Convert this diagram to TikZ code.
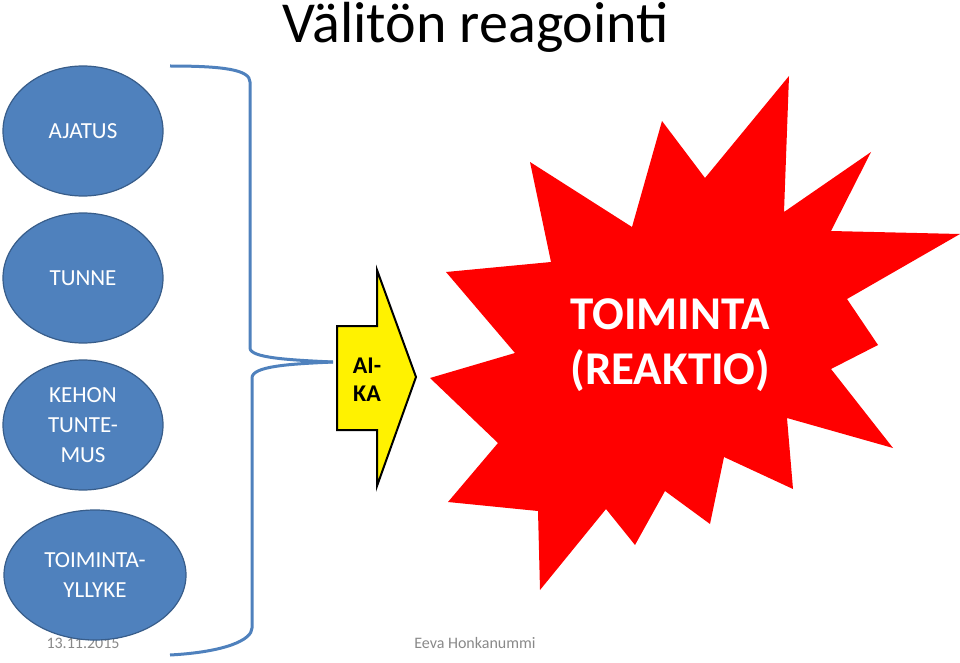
\documentclass[tikz,border=0pt]{standalone}
\usepackage{fontspec}
\setmainfont{Carlito}
\usepackage{tikz}
\usetikzlibrary{positioning, shapes.geometric}

\definecolor{slideblue}{RGB}{79,129,189}
\definecolor{slideblueline}{RGB}{56,93,138}
\definecolor{footgray}{RGB}{137,137,137}

\begin{document}
\begin{tikzpicture}[
  x=1pt, y=-1pt,
  blob/.style={ellipse, draw=slideblueline, line width=1.2pt, fill=slideblue,
    text=white, minimum width=160pt, minimum height=130pt, inner sep=0pt,
    align=center, font=\fontsize{23}{30}\selectfont},
  brace/.style={draw=slideblue, line width=3pt},
  footer/.style={text=footgray, font=\fontsize{16}{18}\selectfont},
]
\useasboundingbox (0,0) rectangle (960,663);

% --- Title ---
\node[anchor=base, inner sep=0pt, font=\fontsize{58}{60}\selectfont] (title)
  at (476,43) {Välitön reagointi};

% --- Footer ---
\node[footer] (date) at (83,643) {13.11.2015};
\node[footer] (author) at (475,643) {Eeva Honkanummi};

% --- Left column ---
\node[blob] (ajatus) at (83,131) {AJATUS};
\node[blob] (tunne) at (83,278) {TUNNE};
\node[blob] (keho) at (83,425) {KEHON\\TUNTE-\\MUS};
\node[blob, minimum width=182pt] (yllyke) at (95,575) {TOIMINTA-\\YLLYKE};

% --- Brace ---
\coordinate (bracetip) at (333,362);
\draw[brace] (170,66) .. controls (225,66) and (250,70) .. (250,82)
  -- (250,348) .. controls (250,358) and (290,360) .. (bracetip);
\draw[brace] (bracetip) .. controls (290,364) and (252,366) .. (252,378)
  -- (252,628) .. controls (252,640) and (225,652) .. (170,655);

% --- Time arrow ---
\draw[fill=yellow, line width=2pt, line join=miter]
  (337,326) -- (377,326) -- (377,270) -- (416,377) -- (377,486)
  -- (377,430) -- (337,430) -- cycle;
\node[font=\bfseries\fontsize{24}{28}\selectfont, align=center] (aika)
  at (367,380) {AI-\\KA};

% --- Reaction burst ---
\fill[red]
  (789,76) -- (784,212) -- (871,152) -- (831,231) -- (960,234)
  -- (847,299) -- (878,345) -- (831,369) -- (893,448) -- (787,418)
  -- (793,489) -- (724,457) -- (710,524) -- (665,491) -- (635,545)
  -- (606,509) -- (540,590) -- (538,511) -- (448,502) -- (498,443)
  -- (430,378) -- (515,353) -- (446,272) -- (551,262) -- (530,162)
  -- (632,227) -- (662,121) -- (705,178) -- cycle;
\node[text=white, align=center, font=\bfseries\fontsize{47}{55}\selectfont]
  (toiminta) at (670,345) {TOIMINTA\\(REAKTIO)};

\end{tikzpicture}
\end{document}
